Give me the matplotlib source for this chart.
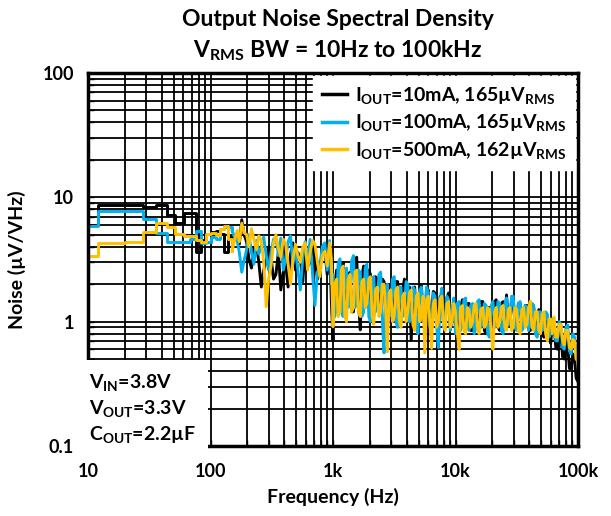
import matplotlib
matplotlib.use("Agg")
import matplotlib.pyplot as plt
from matplotlib.ticker import FixedLocator, LogLocator, NullFormatter

plt.rcParams['font.family'] = ['Lato', 'DejaVu Sans']
plt.rcParams['font.weight'] = 'bold'
plt.rcParams['mathtext.fontset'] = 'custom'
plt.rcParams['mathtext.rm'] = 'Lato:bold'
plt.rcParams['mathtext.it'] = 'Lato:bold'
plt.rcParams['mathtext.bf'] = 'Lato:bold'

# frequency points (Hz), shared by all three traces
freq = [10, 12, 20, 28, 36, 44, 51, 61, 68, 76, 84, 92, 100, 110, 120, 130, 140,
        150, 157, 165, 172, 180, 188, 197, 206, 216, 226, 237, 248, 260, 272,
        285, 298, 312, 327, 342, 358, 375, 393, 411, 430, 450, 471, 494, 517,
        541, 567, 593, 621, 650, 681, 712, 746, 781, 818, 856, 897, 938, 969,
        1000, 1030, 1070, 1100, 1140, 1170, 1210, 1250, 1290, 1330, 1380, 1420,
        1470, 1510, 1560, 1610, 1670, 1720, 1780, 1830, 1890, 1960, 2020, 2090,
        2150, 2220, 2300, 2370, 2450, 2530, 2610, 2700, 2780, 2870, 2960, 3060,
        3160, 3260, 3370, 3480, 3590, 3710, 3830, 3950, 4080, 4210, 4350, 4490,
        4640, 4790, 4940, 5100, 5270, 5440, 5620, 5800, 5990, 6180, 6380, 6590,
        6800, 7020, 7250, 7490, 7730, 7980, 8240, 8510, 8780, 9070, 9360, 9670,
        10000, 10300, 10700, 11000, 11400, 11700, 12100, 12500, 12900, 13300, 13800, 14200,
        14700, 15100, 15600, 16100, 16700, 17200, 17800, 18300, 18900, 19600, 20200, 20900,
        21500, 22200, 23000, 23700, 24500, 25300, 26100, 27000, 27800, 28700, 29600, 30600,
        31600, 32600, 33700, 34800, 35900, 37100, 38300, 39500, 40800, 42100, 43500, 44900,
        46400, 47900, 49400, 51000, 52700, 54400, 56200, 58000, 59900, 61800, 63800, 65900,
        68000, 70200, 72500, 74900, 77300, 79800, 82400, 85100, 87800, 90700, 93600, 96700,
        100000]

noise_10mA = [6.0, 8.7, 8.7, 8.4, 8.7, 7.2, 6.2, 7.5, 7.5, 3.6, 4.5, 4.4, 5.3, 5.4, 5.1, 3.6, 4.8,
              4.0, 4.6, 5.2, 4.2, 6.6, 5.0, 4.4, 3.2, 2.7, 3.9, 4.2, 3.0, 1.9, 2.6,
              3.1, 4.0, 3.3, 2.2, 2.4, 3.6, 1.8, 2.5, 2.9, 1.9, 3.5, 4.3, 2.6, 3.6,
              3.2, 2.1, 4.2, 2.8, 3.0, 3.9, 3.4, 2.2, 2.7, 3.6, 3.8, 2.4, 4.2, 1.5,
              0.71, 1.9, 2.6, 1.3, 1.5, 2.7, 3.0, 1.4, 1.4, 2.4, 2.5, 1.2,
              1.2, 2.2, 3.3, 1.5, 0.86, 2.3, 2.8, 1.3, 1.6, 2.6, 2.4, 1.2,
              1.1, 2.3, 2.2, 1.3, 1.5, 2.2, 2.1, 1.1, 0.9, 1.9, 2.0, 1.2,
              1.3, 2.1, 2.1, 1.1, 1.0, 1.8, 2.2, 1.2, 1.3, 1.9, 0.71, 1.6,
              1.9, 1.0, 1.2, 1.8, 1.95, 1.1, 1.0, 1.7, 1.8, 1.0, 1.15, 1.75,
              1.7, 0.95, 0.9, 1.6, 1.6, 1.0, 1.1, 1.55, 1.7, 0.9, 1.0, 1.5,
              1.4, 0.9, 0.8, 1.35, 1.5, 0.9, 0.95, 1.4, 1.4, 0.85, 0.85, 1.3,
              1.35, 0.9, 1.0, 1.45, 1.45, 0.85, 0.8, 1.3, 1.3, 0.9, 1.0, 1.45,
              1.5, 0.9, 0.85, 1.4, 1.45, 1.0, 1.64, 1.0, 0.95, 1.5, 1.55, 0.95,
              0.9, 1.4, 1.4, 0.9, 1.0, 1.35, 1.35, 0.9, 0.85, 1.3, 1.3, 0.85,
              0.9, 1.25, 1.2, 0.8, 0.75, 1.15, 1.1, 0.75, 0.67, 1.0, 0.95, 0.62,
              0.6, 0.85, 0.8, 0.52, 0.5, 0.7, 0.65, 0.42, 0.42, 0.55, 0.5, 0.35,
              0.33]

noise_100mA = [5.9, 7.8, 7.8, 6.7, 5.2, 4.4, 4.4, 4.4, 4.6, 5.4, 4.3, 4.4, 4.8, 4.6, 5.6, 5.8, 5.8,
               5.4, 4.8, 4.5, 3.6, 2.5, 3.1, 3.8, 5.0, 3.6, 2.9, 4.5, 3.5, 4.0, 4.8,
               3.4, 2.6, 3.6, 4.6, 4.8, 3.4, 4.7, 2.6, 3.2, 4.4, 4.9, 2.9, 3.9, 2.6,
               1.8, 3.3, 4.4, 2.9, 4.6, 2.4, 1.35, 2.5, 2.8, 4.0, 4.3, 2.6, 4.5, 2.0,
               2.4, 1.1, 1.3, 2.9, 3.2, 1.2, 1.1, 2.5, 2.7, 1.3, 1.6, 3.1,
               3.4, 1.3, 1.4, 2.6, 2.5, 1.1, 1.2, 2.7, 2.9, 1.1, 1.0, 2.2,
               2.3, 1.2, 1.4, 2.4, 2.5, 1.0, 0.56, 1.6, 2.0, 1.1, 1.2, 2.2,
               2.3, 1.0, 0.9, 1.9, 1.9, 1.1, 1.3, 2.1, 2.0, 1.0, 1.1, 1.9,
               1.8, 0.9, 0.8, 1.8, 1.9, 1.0, 1.3, 1.9, 1.7, 0.9, 0.9, 1.7,
               1.6, 0.9, 0.62, 1.5, 1.86, 0.9, 1.0, 1.6, 1.5, 0.85, 1.2, 1.55,
               0.8, 1.4, 1.45, 0.85, 1.0, 1.5, 1.55, 0.9, 0.85, 1.35, 1.4, 0.8,
               0.9, 1.45, 1.5, 0.9, 1.0, 1.4, 1.35, 0.8, 0.75, 1.35, 1.45, 0.9,
               1.0, 1.45, 1.4, 0.85, 0.8, 1.4, 1.55, 0.95, 1.1, 1.6, 1.6, 0.9,
               0.85, 1.4, 1.45, 0.85, 0.9, 1.35, 1.3, 0.85, 1.0, 1.4, 1.35, 0.8,
               0.75, 1.2, 1.2, 0.85, 0.9, 1.2, 1.15, 0.75, 0.8, 1.05, 1.0, 0.7,
               0.7, 1.0, 0.95, 0.62, 0.6, 0.9, 0.94, 0.58, 0.55, 0.8, 0.75, 0.5,
               0.5]

noise_500mA = [3.4, 4.3, 4.4, 5.3, 6.2, 5.8, 5.1, 4.9, 4.9, 4.5, 4.4, 5.1, 5.2, 5.0, 5.6, 5.9, 4.6,
               3.7, 4.5, 5.4, 4.4, 6.2, 5.2, 5.0, 4.0, 5.6, 4.6, 3.8, 4.9, 4.5, 3.0,
               1.32, 2.2, 2.8, 4.3, 5.0, 3.9, 3.3, 4.6, 4.2, 2.9, 2.0, 3.2, 4.2, 3.4,
               3.0, 4.0, 4.3, 2.6, 3.6, 4.5, 4.2, 3.0, 2.3, 3.4, 3.7, 2.8, 4.3, 3.2,
               0.91, 2.0, 2.2, 1.1, 1.2, 2.6, 2.8, 1.1, 1.0, 2.2, 2.4, 1.2,
               1.3, 2.5, 2.6, 1.2, 1.1, 2.1, 2.2, 1.3, 1.4, 2.2, 2.3, 1.1,
               0.95, 1.8, 1.9, 1.1, 1.2, 2.0, 2.0, 1.2, 0.57, 1.7, 1.8, 1.0,
               1.1, 1.8, 1.9, 1.0, 0.9, 1.6, 1.7, 1.0, 1.2, 1.7, 1.8, 0.95,
               0.85, 1.6, 1.7, 1.0, 1.1, 1.6, 0.56, 1.5, 1.6, 1.0, 0.61, 1.4,
               1.5, 0.9, 1.0, 1.5, 1.6, 0.95, 0.85, 1.4, 1.45, 0.9, 1.0, 1.4,
               1.2, 0.85, 0.6, 1.3, 1.35, 0.85, 0.8, 1.3, 1.25, 0.9, 1.0, 1.35,
               1.4, 0.9, 0.8, 1.25, 1.3, 0.9, 0.95, 1.3, 1.25, 0.8, 0.6, 1.2,
               1.3, 0.9, 1.0, 1.3, 1.35, 0.9, 0.85, 1.25, 1.3, 0.85, 0.9, 1.3,
               1.25, 0.85, 0.8, 1.25, 1.3, 0.9, 0.95, 1.3, 1.46, 0.9, 0.85, 1.2,
               1.2, 0.85, 0.8, 1.15, 1.2, 0.8, 0.7, 1.05, 1.05, 0.8, 1.09, 0.75,
               0.75, 0.95, 0.95, 0.7, 0.65, 0.85, 0.85, 0.62, 0.6, 0.72, 0.7, 0.5,
               0.48]

labels = [r"I$_{\mathrm{OUT}}$=10mA, 165µV$_{\mathrm{RMS}}$",
          r"I$_{\mathrm{OUT}}$=100mA, 165µV$_{\mathrm{RMS}}$",
          r"I$_{\mathrm{OUT}}$=500mA, 162µV$_{\mathrm{RMS}}$"]
colors = ["black", "#00B0F0", "#FFC000"]

x_ticks = [10, 100, 1000, 10000, 100000]
x_tick_labels = ["10", "100", "1k", "10k", "100k"]
y_ticks = [0.1, 1, 10, 100]
y_tick_labels = ["0.1", "1", "10", "100"]

# below ~150 Hz the analyser output is a coarse staircase, above it a dense trace
n_step = 18

fig = plt.figure(figsize=(6.11, 5.16), dpi=100)
ax = fig.add_axes([88 / 611, 1 - 446 / 516, 490 / 611, 373 / 516])

for ys, c, lab in zip([noise_10mA, noise_100mA, noise_500mA], colors, labels):
    ax.plot(freq[:n_step], ys[:n_step], color=c, lw=2.1, drawstyle="steps-post", label=lab)
    ax.plot(freq[n_step - 1:], ys[n_step - 1:], color=c, lw=2.1)

ax.set_xscale("log")
ax.set_yscale("log")
ax.set_xlim(10, 100000)
ax.set_ylim(0.1, 100)

ax.xaxis.set_major_locator(FixedLocator(x_ticks))
ax.set_xticklabels(x_tick_labels)
ax.yaxis.set_major_locator(FixedLocator(y_ticks))
ax.set_yticklabels(y_tick_labels)
ax.xaxis.set_minor_locator(LogLocator(base=10, subs=range(2, 10), numticks=20))
ax.yaxis.set_minor_locator(LogLocator(base=10, subs=range(2, 10), numticks=20))
ax.xaxis.set_minor_formatter(NullFormatter())
ax.yaxis.set_minor_formatter(NullFormatter())

ax.grid(True, which="both", color="black", lw=1.3)
ax.tick_params(which="both", direction="in", length=4, width=1, labelsize=13)
ax.tick_params(axis="x", pad=12)
ax.tick_params(axis="y", pad=10)
for s in ax.spines.values():
    s.set_linewidth(2.5)

ax.set_xlabel("Frequency (Hz)", fontsize=14, fontweight="bold", labelpad=6)
ax.set_ylabel("Noise (µV/VHz)", fontsize=14, fontweight="bold", labelpad=12)

fig.text(338 / 611, 1 - 19 / 516, "Output Noise Spectral Density", ha="center", va="center",
         fontsize=16.5, fontweight="bold")
fig.text(338 / 611, 1 - 51 / 516, r"V$_{\mathrm{RMS}}$ BW = 10Hz to 100kHz", ha="center", va="center",
         fontsize=16.5, fontweight="bold")

leg = ax.legend(loc="upper right", frameon=True, fancybox=False, borderaxespad=0.15,
                fontsize=14, handlelength=1.3, handletextpad=0.4, labelspacing=0.35,
                borderpad=0.45)
leg.get_frame().set_edgecolor("white")
leg.get_frame().set_facecolor("white")
leg.get_frame().set_alpha(1)
for line in leg.get_lines():
    line.set_linewidth(2.5)

ax.text(0.003, 0.004, "V$_{\\mathrm{IN}}$=3.8V\nV$_{\\mathrm{OUT}}$=3.3V\nC$_{\\mathrm{OUT}}$=2.2µF",
        transform=ax.transAxes, ha="left", va="bottom", fontsize=14, fontweight="bold",
        linespacing=1.3, zorder=5,
        bbox=dict(facecolor="white", edgecolor="none", boxstyle="square,pad=0.6"))

fig.savefig("out.png", dpi=100)
